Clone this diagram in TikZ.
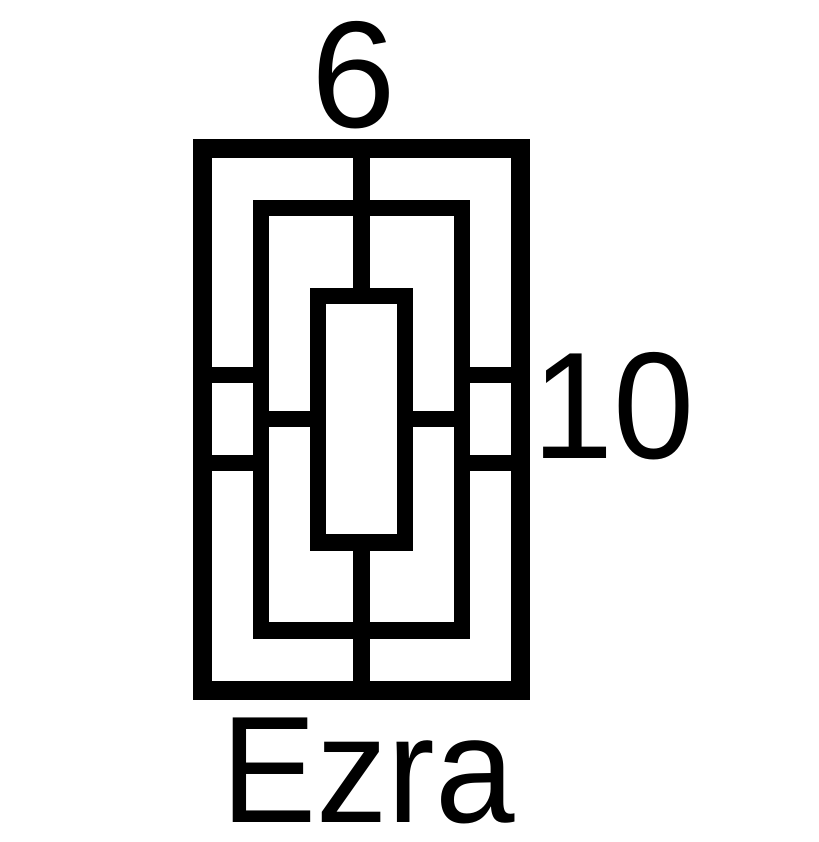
\documentclass[tikz,border=0pt]{standalone}
\usepackage{fontspec}
\setmainfont{Liberation Sans}
\usepackage{tikz}

\begin{document}
\begin{tikzpicture}[x=1pt,y=1pt,-]
            \tikzstyle{panel}=[rectangle,draw=black,fill=none,outer sep=0pt,inner sep=0pt,line width=16.3pt]
            \tikzstyle{label}=[inner sep=0pt,font=\fontsize{152}{152}\selectfont]
                \useasboundingbox (0,0) rectangle (818,-842);
                \node[panel,line width=19.3pt,minimum width=318pt,minimum height=542pt] (P-1) at (361.5,-419.3){};
                \node[panel,minimum width=200.7pt,minimum height=422.5pt] (P-2) at (361.5,-419.3){};
                \node[panel,minimum width=87.3pt,minimum height=246.5pt] (P-3) at (361.5,-419.3){};

                \node[label] (top) at (353.3,-75.5){6};
                \node[label,xscale=0.96] (side) at (613.7,-406){10};
                \node[label,xscale=0.94] (name) at (368,-771){Ezra};

                \foreach \from/\to in {1/2, 2/3}{
                    \draw[line width=16.3pt] (P-\from.north) -- (P-\to.north);
                    \draw[line width=16.3pt] (P-\from.south) -- (P-\to.south);
                }
                \foreach \s in {44pt,-44pt}{
                    \draw[line width=16.3pt] ([yshift=\s]P-1.west) -- ([yshift=\s]P-1.west -| P-2.west);
                    \draw[line width=16.3pt] ([yshift=\s]P-1.east) -- ([yshift=\s]P-1.east -| P-2.east);
                }
                \draw[line width=16.3pt] (P-2.west) -- (P-3.west);
                \draw[line width=16.3pt] (P-2.east) -- (P-3.east);
        \end{tikzpicture}
\end{document}
